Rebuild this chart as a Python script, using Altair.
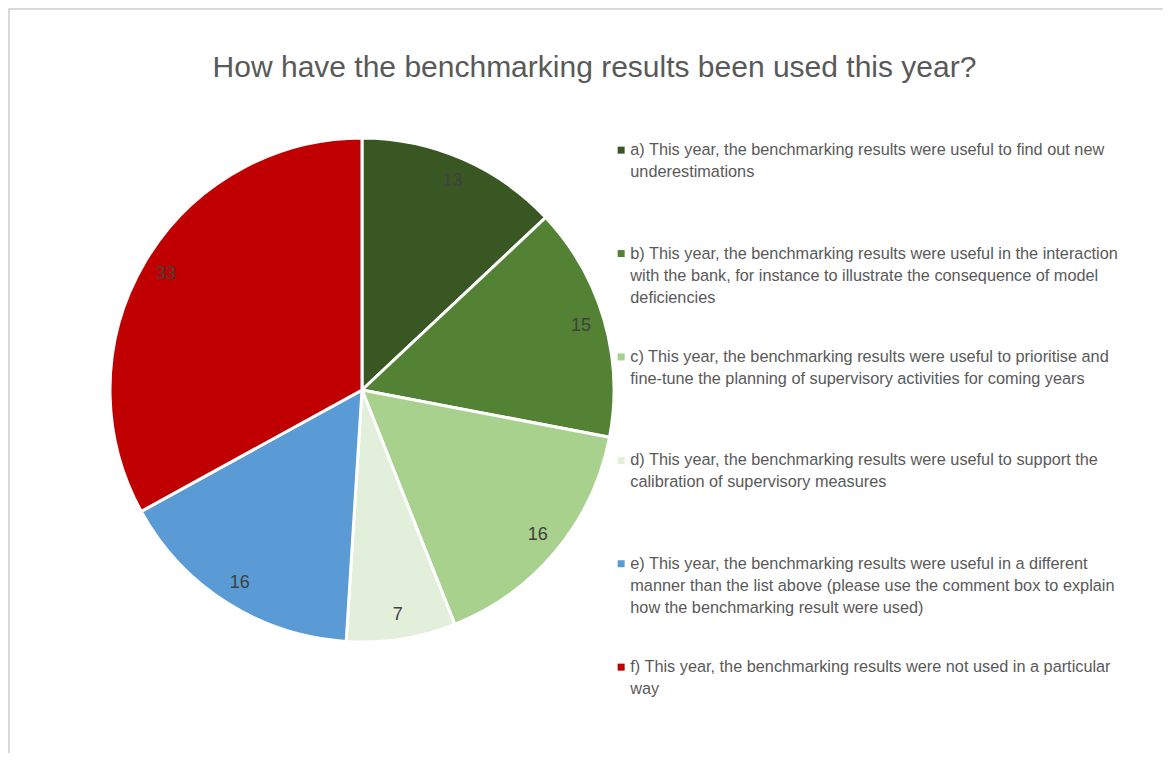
import altair as alt
import pandas as pd

# ---- data ----
categories = [
    "a) This year, the benchmarking results were useful to find out new|underestimations|",
    "b) This year, the benchmarking results were useful in the interaction|with the bank, for instance to illustrate the consequence of model|deficiencies",
    "c) This year, the benchmarking results were useful to prioritise and|fine-tune the planning of supervisory activities for coming years|",
    "d) This year, the benchmarking results were useful to support the|calibration of supervisory measures|",
    "e) This year, the benchmarking results were useful in a different|manner than the list above (please use the comment box to explain|how the benchmarking result were used)",
    "f) This year, the benchmarking results were not used in a particular|way|",
]
values = [13, 15, 16, 7, 16, 33]
colors = ["#385723", "#548235", "#A9D18E", "#E2EFDA", "#5B9BD5", "#C00000"]
title_text = "How have the benchmarking results been used this year?"

df = pd.DataFrame({"category": categories, "value": values, "order": list(range(len(values)))})

FONT = "Liberation Sans"
W, H = 1155, 745
CX, CY = 354, 382
R = 252

color_enc = alt.Color(
    "category:N",
    scale=alt.Scale(domain=categories, range=colors),
    sort=categories,
    legend=alt.Legend(
        orient="none",
        legendX=605,
        legendY=134,
        title=None,
        symbolType="square",
        symbolSize=49,
        symbolStrokeWidth=0,
        labelFont=FONT,
        labelFontSize=16.3,
        labelColor="#595959",
        labelLimit=700,
        labelOffset=1,
        rowPadding=42.4,
        labelExpr="split(datum.label, '|')",
    ),
)

base = alt.Chart(df).encode(
    theta=alt.Theta("value:Q", stack=True),
    order=alt.Order("order:Q"),
)

pie = base.mark_arc(radius=R, stroke="white", strokeWidth=3).encode(
    color=color_enc,
    x=alt.value(CX),
    y=alt.value(CY),
)

labels = base.mark_text(radius=228, font=FONT, fontSize=18, color="#404040").encode(
    text=alt.Text("value:Q"),
    x=alt.value(CX),
    y=alt.value(CY),
)

frame_top = alt.Chart(df).mark_rule(color="#d9d9d9", strokeWidth=2).encode(
    x=alt.value(0), x2=alt.value(W), y=alt.value(1)
)
frame_left = alt.Chart(df).mark_rule(color="#d9d9d9", strokeWidth=2).encode(
    y=alt.value(0), y2=alt.value(H), x=alt.value(1)
)

chart = (
    alt.layer(frame_top, frame_left, pie, labels)
    .properties(
        width=W,
        height=H,
        padding=0,
        autosize=alt.AutoSizeParams(type="none"),
        title=alt.TitleParams(
            title_text,
            font=FONT,
            fontSize=30,
            fontWeight="normal",
            color="#595959",
            anchor="middle",
            baseline="alphabetic",
            offset=-100,
            dx=9,
        ),
    )
    .configure_view(stroke=None)
    .configure(style={"guide-label": {"lineHeight": 22}})
)

chart.save("out.html", embed_options={"renderer": "svg", "actions": False})
